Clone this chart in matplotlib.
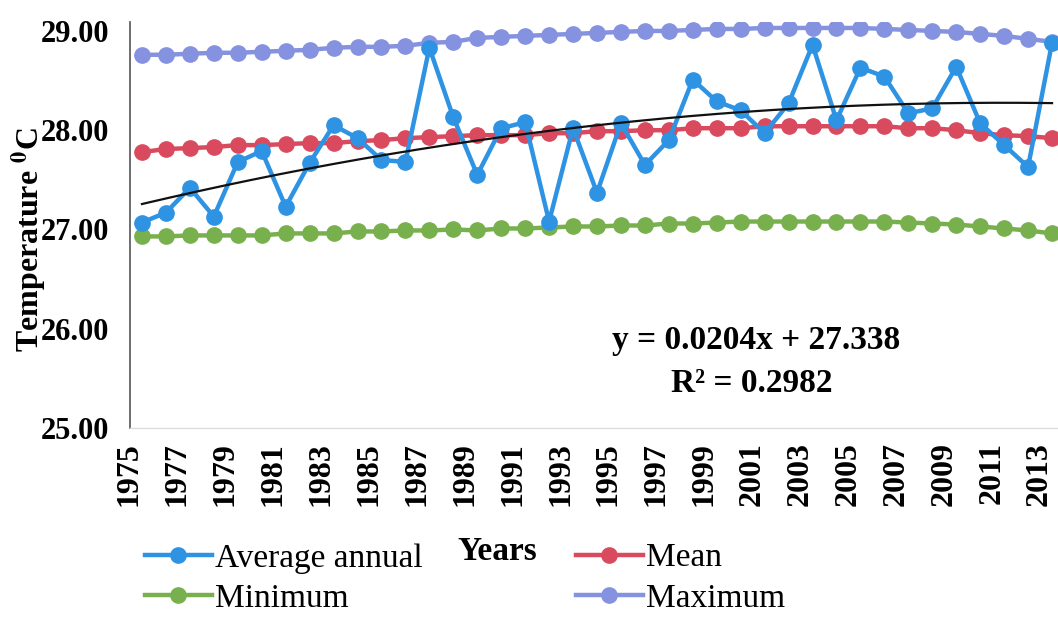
import numpy as np
import matplotlib
matplotlib.use("Agg")
import matplotlib.pyplot as plt
from matplotlib.transforms import ScaledTranslation

plt.rcParams["font.family"] = ["Liberation Serif", "DejaVu Serif"]
plt.rcParams["mathtext.fontset"] = "stix"

years = list(range(1975, 2014))

average_annual = [27.07, 27.17, 27.42, 27.13, 27.68, 27.79, 27.23, 27.67, 28.05, 27.92,
                  27.70, 27.68, 28.83, 28.13, 27.55, 28.02, 28.08, 27.08, 28.02, 27.37,
                  28.07, 27.65, 27.90, 28.51, 28.29, 28.20, 27.97, 28.27, 28.86, 28.10,
                  28.63, 28.54, 28.17, 28.22, 28.64, 28.07, 27.85, 27.63, 28.88]

mean_temp = [27.78, 27.81, 27.82, 27.83, 27.85, 27.85, 27.86, 27.87, 27.87, 27.89,
             27.90, 27.92, 27.93, 27.94, 27.95, 27.95, 27.95, 27.97, 27.97, 27.99,
             27.99, 28.00, 28.00, 28.02, 28.02, 28.02, 28.04, 28.04, 28.04, 28.04,
             28.04, 28.04, 28.02, 28.02, 28.00, 27.97, 27.95, 27.94, 27.92]

minimum_temp = [26.93, 26.93, 26.94, 26.94, 26.94, 26.94, 26.96, 26.96, 26.96, 26.98,
                26.98, 26.99, 26.99, 27.00, 26.99, 27.01, 27.01, 27.02, 27.03, 27.03,
                27.04, 27.04, 27.06, 27.06, 27.07, 27.08, 27.08, 27.08, 27.08, 27.08,
                27.08, 27.08, 27.07, 27.06, 27.05, 27.03, 27.01, 26.99, 26.96]

maximum_temp = [28.76, 28.76, 28.77, 28.78, 28.78, 28.79, 28.80, 28.81, 28.83, 28.84,
                28.84, 28.85, 28.88, 28.89, 28.93, 28.94, 28.95, 28.96, 28.97, 28.98,
                28.99, 29.00, 29.00, 29.01, 29.02, 29.02, 29.03, 29.03, 29.03, 29.03,
                29.03, 29.02, 29.01, 29.00, 28.99, 28.97, 28.95, 28.92, 28.89]

y_ticks = [25.0, 26.0, 27.0, 28.0, 29.0]
trend_text = ["y = 0.0204x + 27.338", "R\u00b2 = 0.2982"]

C_AVG = "#2e93e3"
C_MEAN = "#d94a5e"
C_MIN = "#79b04e"
C_MAX = "#8592e0"

W, H = 1058, 617
fig = plt.figure(figsize=(W / 100, H / 100), dpi=100)
ax = fig.add_axes([130 / W, 1 - 428 / H, (1064 - 130) / W, (428 - 22) / H])

x = np.arange(len(years))
style = dict(marker="o", markersize=11, linewidth=3.2)
h_max, = ax.plot(x, maximum_temp, color=C_MAX, label="Maximum", **style)
h_mean, = ax.plot(x, mean_temp, color=C_MEAN, label="Mean", **style)
h_min, = ax.plot(x, minimum_temp, color=C_MIN, label="Minimum", **style)
h_avg, = ax.plot(x, average_annual, color=C_AVG, label="Average annual", **style)

# polynomial trend through the annual averages
coef = np.polyfit(x, average_annual, 2)
xt = np.linspace(x[0], x[-1], 200)
ax.plot(xt, np.polyval(coef, xt), color="#111111", linewidth=1.6, zorder=5)

ax.set_xlim(-0.5, len(years) - 0.5)
ax.set_ylim(25, 29.09)
ax.set_yticks(y_ticks)
ax.set_yticklabels([f"{v:.2f}" for v in y_ticks], fontsize=22, fontweight="bold")
ax.set_xticks(x[::2])
ax.set_xticklabels([str(y) for y in years[::2]], rotation=90, fontsize=23,
                   fontweight="bold")
ax.tick_params(axis="both", length=0)
ax.tick_params(axis="y", pad=15)
ax.tick_params(axis="x", pad=10)
shift = ScaledTranslation(-9 / 72, 0, fig.dpi_scale_trans)
for lbl in ax.get_xticklabels():
    lbl.set_transform(lbl.get_transform() + shift)

for side in ("top", "right"):
    ax.spines[side].set_visible(False)
ax.spines["left"].set_color("#555555")
ax.spines["left"].set_linewidth(1.2)
ax.spines["bottom"].set_color("#dddddd")
ax.spines["bottom"].set_linewidth(1.0)

fig.text(29 / W, 1 - 240 / H, r"Temperature $^{\mathbf{0}}$C", rotation=90,
         ha="center", va="center", fontsize=23, fontweight="bold")
fig.text(497 / W, 1 - 551 / H, "Years", ha="center", va="center",
         fontsize=24, fontweight="bold")
fig.text(756 / W, 1 - 340 / H, trend_text[0], ha="center", va="center",
         fontsize=24, fontweight="bold")
fig.text(752 / W, 1 - 383 / H, trend_text[1], ha="center", va="center",
         fontsize=24, fontweight="bold")

fig.legend(handles=[h_avg, h_min, h_mean, h_max], ncol=2, loc="upper left",
           bbox_to_anchor=(145 / W, 1 - 543 / H), frameon=False, fontsize=24,
           borderpad=0, borderaxespad=0, handlelength=2.0, handletextpad=0.1,
           columnspacing=4.6, labelspacing=0.3, numpoints=1)

fig.savefig("out.png", dpi=100, facecolor="white")
